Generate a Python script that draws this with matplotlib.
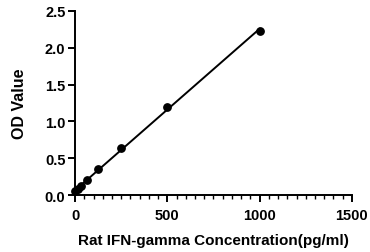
import numpy as np
import matplotlib.pyplot as plt
from matplotlib.ticker import MultipleLocator

plt.rcParams['font.family'] = ['Liberation Sans', 'DejaVu Sans']
plt.rcParams['font.weight'] = 'bold'

conc = [0, 15.6, 31.25, 62.5, 125, 250, 500, 1000]
od = [0.05, 0.08, 0.12, 0.2, 0.35, 0.64, 1.2, 2.23]

fig = plt.figure(figsize=(3.7, 2.53), dpi=100)
ax = fig.add_axes([0.203, 0.225, 0.748, 0.728])

k, b = np.polyfit(conc, od, 1)
xs = np.array([0, 1000])
ax.plot(xs, k * xs + b, color='black', linewidth=1.4, zorder=2)
ax.scatter(conc, od, s=28, color='black', zorder=3, clip_on=False)

ax.set_xlim(0, 1500)
ax.set_ylim(0, 2.5)
ax.set_xticks([0, 500, 1000, 1500])
ax.xaxis.set_minor_locator(MultipleLocator(50))
ax.set_yticks([0, 0.5, 1.0, 1.5, 2.0, 2.5])
ax.set_yticklabels(['0.0', '0.5', '1.0', '1.5', '2.0', '2.5'])

for s in ['top', 'right']:
    ax.spines[s].set_visible(False)
for s in ['left', 'bottom']:
    ax.spines[s].set_linewidth(1.4)
ax.tick_params(axis='both', which='major', length=5, width=1.4, labelsize=10.5, pad=2)
ax.tick_params(axis='x', which='major', pad=4)
ax.tick_params(axis='x', which='minor', length=3, width=1.0)

ax.set_xlabel('Rat IFN-gamma Concentration(pg/ml)', fontsize=11, fontweight='bold', labelpad=8)
ax.set_ylabel('OD Value', fontsize=11.5, fontweight='bold', labelpad=13)

fig.savefig('out.png', dpi=100)
